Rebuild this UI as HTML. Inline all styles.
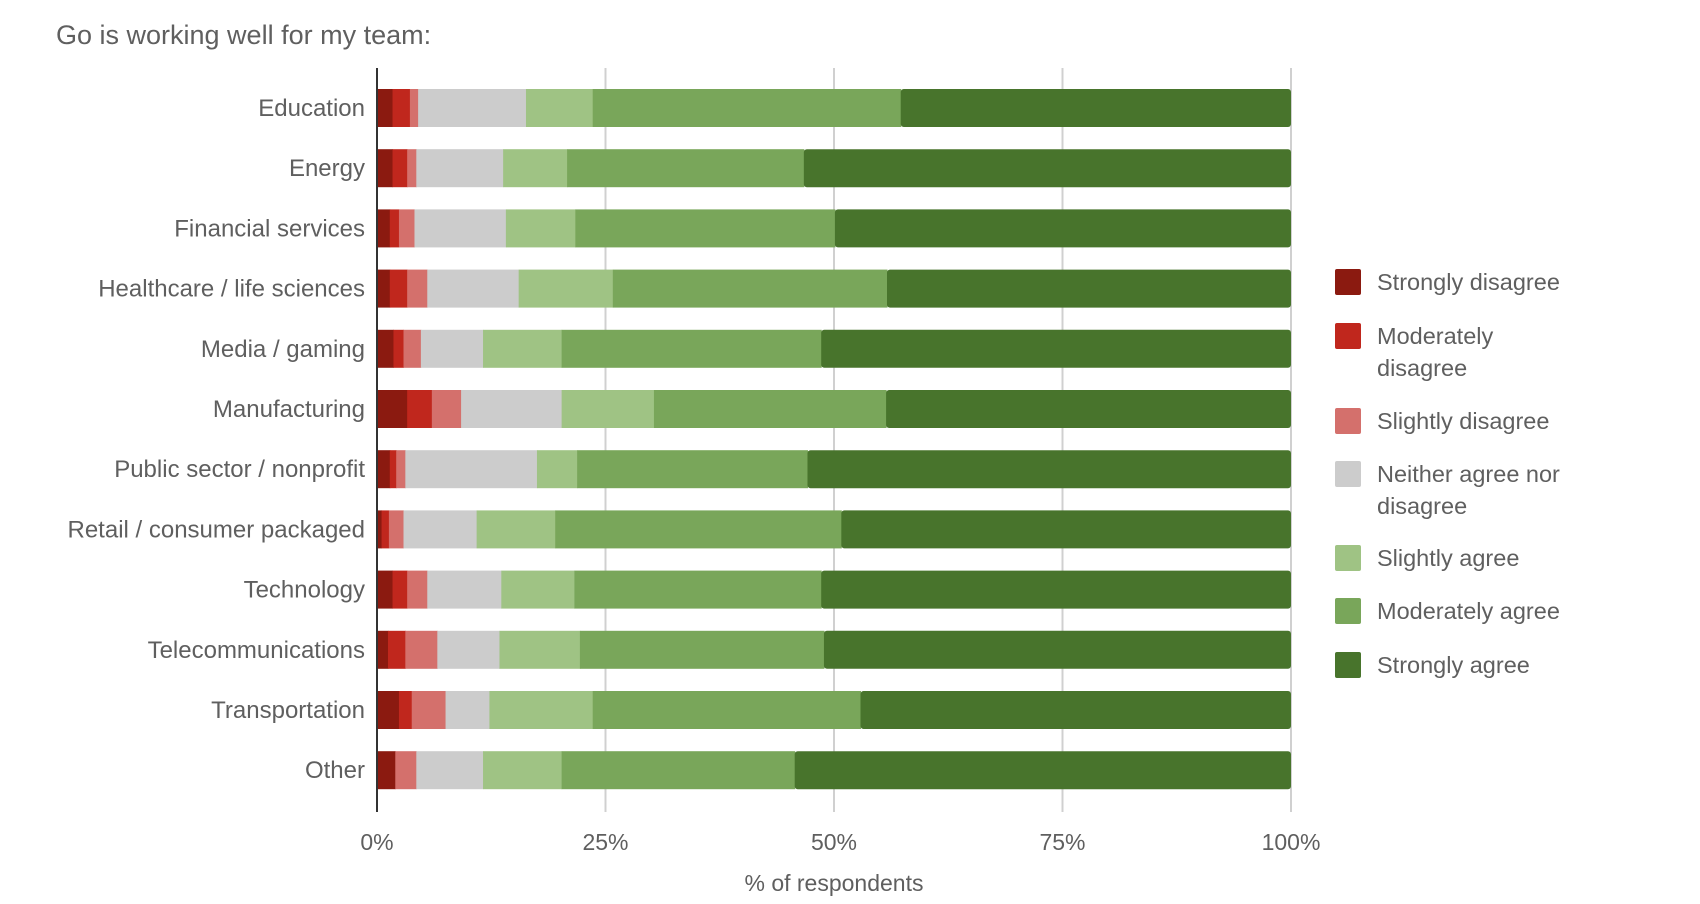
<!DOCTYPE html>
<html><head><meta charset="utf-8"><style>
html,body{margin:0;padding:0;background:#fff;}
svg{display:block;font-family:"Liberation Sans",sans-serif;}
</style></head><body>
<svg id="chart" width="1700" height="904" viewBox="0 0 1700 904" xmlns="http://www.w3.org/2000/svg">
<text x="56" y="44" font-size="27" fill="#5f5f5f">Go is working well for my team:</text>
<g id="grid"></g><g id="bars"></g><g id="ylabels"></g><g id="xticks"></g>
<line x1="377" y1="68" x2="377" y2="812" stroke="#333" stroke-width="2"/>
<text x="834" y="891" font-size="23" fill="#5f5f5f" text-anchor="middle">% of respondents</text>
<g id="legend"></g>
</svg>
<script>
const categories = ["Education","Energy","Financial services","Healthcare / life sciences","Media / gaming","Manufacturing","Public sector / nonprofit","Retail / consumer packaged","Technology","Telecommunications","Transportation","Other"];
const seriesNames = ["Strongly disagree","Moderately disagree","Slightly disagree","Neither agree nor disagree","Slightly agree","Moderately agree","Strongly agree"];
const stronglyDisagree   = [1.7,1.7,1.4,1.4,1.8,3.3,1.4,0.5,1.7,1.2,2.4,2.0];
const moderatelyDisagree = [1.9,1.6,1.0,1.9,1.1,2.7,0.7,0.8,1.6,1.9,1.4,0.0];
const slightlyDisagree   = [0.9,1.0,1.7,2.2,1.9,3.2,1.0,1.6,2.2,3.5,3.7,2.3];
const neither            = [11.8,9.5,10.0,10.0,6.8,11.0,14.4,8.0,8.1,6.8,4.8,7.3];
const slightlyAgree      = [7.3,7.0,7.6,10.3,8.6,10.1,4.4,8.6,8.0,8.8,11.3,8.6];
const moderatelyAgree    = [33.7,25.9,28.4,30.0,28.4,25.4,25.2,31.3,27.0,26.7,29.3,25.5];
const stronglyAgree      = [42.7,53.3,49.9,44.2,51.4,44.3,52.9,49.2,51.4,51.1,47.1,54.3];
const xTicks = [0,25,50,75,100];
const xTickLabels = ["0%","25%","50%","75%","100%"];

const series = [stronglyDisagree,moderatelyDisagree,slightlyDisagree,neither,slightlyAgree,moderatelyAgree,stronglyAgree];
const colors = ["#8b1a10","#c0271d","#d4706c","#cccccc","#9fc384","#79a65a","#48742c"];
const NS="http://www.w3.org/2000/svg";
const X0=377, X1=1291, Y0=108, PITCH=60.2, BH=38;
const xs = v => X0 + (X1-X0)*v/100;
const yc = i => Y0 + i*PITCH;
function mk(tag, attrs, parent){const e=document.createElementNS(NS,tag);for(const k in attrs)e.setAttribute(k,attrs[k]);parent.appendChild(e);return e;}
const grid=document.getElementById('grid'),bars=document.getElementById('bars'),yl=document.getElementById('ylabels'),xt=document.getElementById('xticks'),lg=document.getElementById('legend');
xTicks.forEach((t,i)=>{
  const l=mk('line',{x1:xs(t),x2:xs(t),y1:68,y2:812,stroke:'#d0d0d0','stroke-width':2},grid);
  
  
  const tx=mk('text',{x:xs(t),y:850,'font-size':23,fill:'#5f5f5f','text-anchor':'middle'},xt);
  tx.textContent=xTickLabels[i];
  
  
});
categories.forEach((c,i)=>{
  const t=mk('text',{x:365,y:yc(i)+8,'font-size':24,fill:'#5f5f5f','text-anchor':'end'},yl);
  t.textContent=c;
  
  
  let cum=0;
  series.forEach((s,k)=>{
    const v=s[i]; const x=xs(cum); const w=xs(cum+v)-x; cum+=v;
    if(w<=0) return;
    const last = k===series.length-1;
    const r=mk('rect',{x:x,y:yc(i)-BH/2,width:last?w:w+0.5,height:BH,fill:colors[k],rx:last?3:0},bars);
    
    
  });
});
const legY=[282,421,474,558,611,665];
const legendRows=[[282,["Strongly disagree"]],[336,["Moderately","disagree"]],[421,["Slightly disagree"]],[474,["Neither agree nor","disagree"]],[558,["Slightly agree"]],[611,["Moderately agree"]],[665,["Strongly agree"]]];
legendRows.forEach((r,k)=>{
  const g=mk('g',{},lg);
  
  
  mk('rect',{x:1335,y:r[0]-13,width:26,height:26,rx:2,fill:colors[k]},g);
  r[1].forEach((line,j)=>{
    const t=mk('text',{x:1377,y:r[0]+8+j*32,'font-size':23.5,fill:'#5f5f5f'},g);
    t.textContent=line;
  });
});
</script>
</body></html>
